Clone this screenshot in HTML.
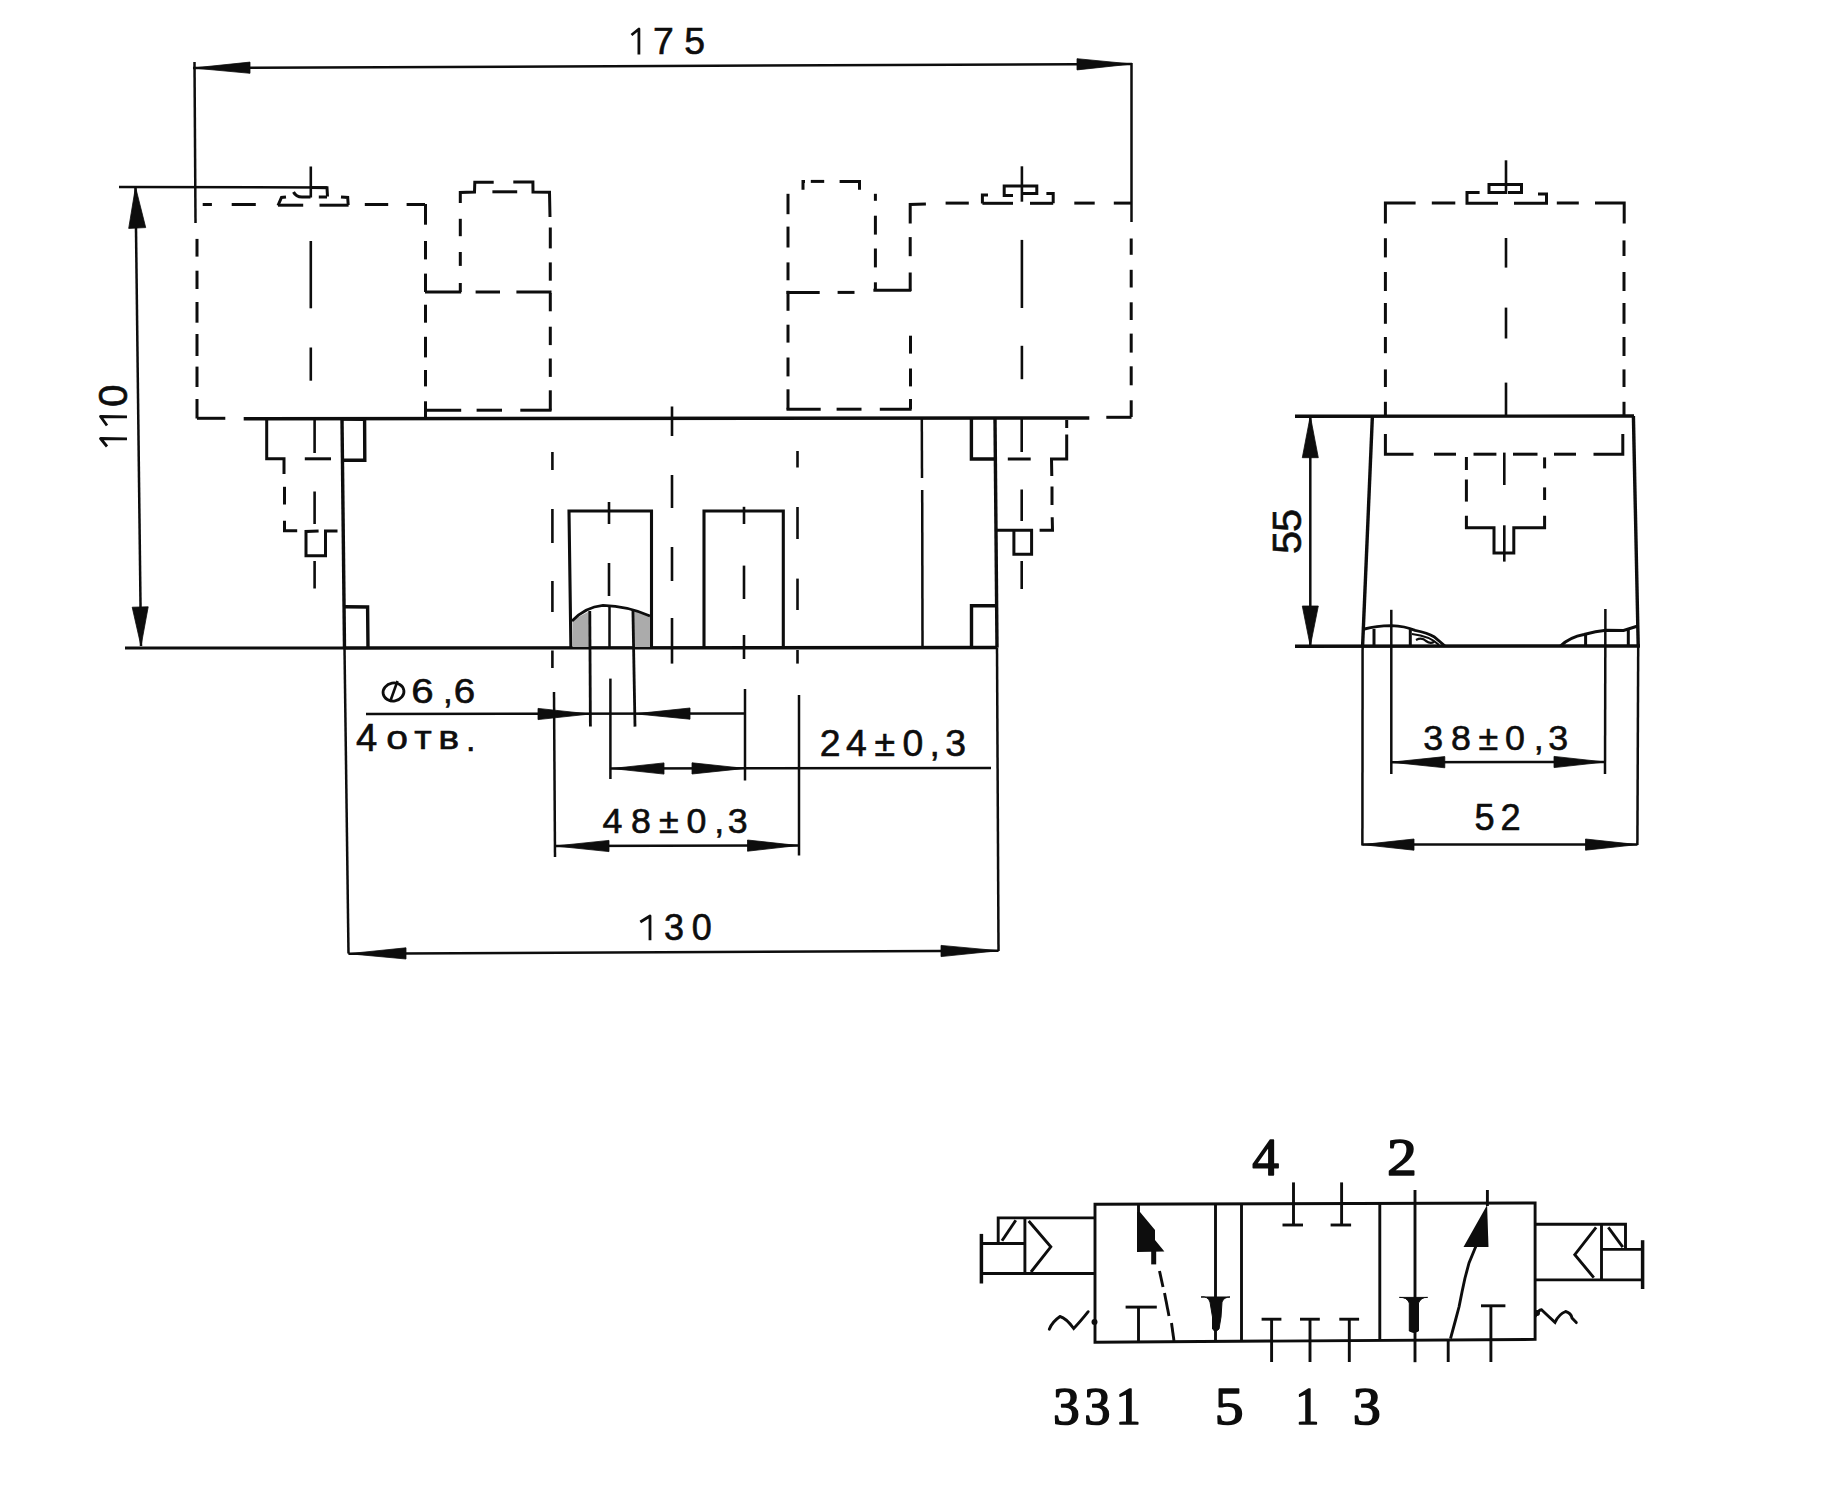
<!DOCTYPE html>
<html><head><meta charset="utf-8"><style>
html,body{margin:0;padding:0;background:#fff;overflow:hidden;}
svg{display:block;}
</style></head><body>
<svg width="1836" height="1508" viewBox="0 0 1836 1508" stroke="#0d0d0d" fill="none">
<rect x="0" y="0" width="1836" height="1508" fill="#fff" stroke="none"/>
<line x1="193" y1="68" x2="1132" y2="64" stroke-width="2.5" stroke-linecap="butt"/>
<polygon points="193.0,68.0 250.0,73.3 250.0,62.1" fill="#0d0d0d" stroke="#0d0d0d" stroke-width="0.8" stroke-linejoin="round"/>
<polygon points="1132.0,64.0 1077.0,58.7 1077.0,69.9" fill="#0d0d0d" stroke="#0d0d0d" stroke-width="0.8" stroke-linejoin="round"/>
<path d="M631.5,35.0 L638.9,29.0 L638.9,54.4" fill="none" stroke-width="2.8" stroke-linejoin="round"/>
<text x="653.1" y="54.4" font-family="Liberation Sans" font-weight="normal" font-size="37.4" fill="#0d0d0d" stroke="#0d0d0d" stroke-width="0.6">7</text>
<text x="684.3" y="54.4" font-family="Liberation Sans" font-weight="normal" font-size="37.4" fill="#0d0d0d" stroke="#0d0d0d" stroke-width="0.6">5</text>
<line x1="194.5" y1="62" x2="195.5" y2="223" stroke-width="2.5" stroke-linecap="butt"/>
<line x1="1131.5" y1="63" x2="1131.5" y2="222" stroke-width="2.5" stroke-linecap="butt"/>
<line x1="119" y1="187" x2="327" y2="187.5" stroke-width="2.5" stroke-linecap="butt"/>
<line x1="135.5" y1="187" x2="141" y2="646" stroke-width="2.5" stroke-linecap="butt"/>
<polygon points="135.5,187.0 128.7,228.4 145.7,227.6" fill="#0d0d0d" stroke="#0d0d0d" stroke-width="0.8" stroke-linejoin="round"/>
<polygon points="141.0,646.0 148.2,606.8 132.2,607.2" fill="#0d0d0d" stroke="#0d0d0d" stroke-width="0.8" stroke-linejoin="round"/>
<line x1="125" y1="648" x2="345" y2="648" stroke-width="2.9" stroke-linecap="butt"/>
<path d="M107,446.5 L100.5,438.5 L127,438.8" fill="none" stroke-width="2.8" stroke-linejoin="round"/>
<path d="M100,425 M107,425.5 L100.5,416.5 L127,416.8" fill="none" stroke-width="2.8" stroke-linejoin="round"/>
<text x="-1.6" y="0" transform="translate(127.3,405.3) rotate(-90)" font-family="Liberation Sans" font-weight="normal" font-size="40.5" fill="#0d0d0d" stroke="#0d0d0d" stroke-width="0.6">0</text>
<line x1="197" y1="238.9" x2="197" y2="256.6" stroke-width="3.0" stroke-linecap="butt"/>
<line x1="197" y1="270.7" x2="197" y2="289" stroke-width="3.0" stroke-linecap="butt"/>
<line x1="197" y1="302" x2="197" y2="322.7" stroke-width="3.0" stroke-linecap="butt"/>
<line x1="197" y1="334" x2="197" y2="356" stroke-width="3.0" stroke-linecap="butt"/>
<line x1="197" y1="366.6" x2="197" y2="387" stroke-width="3.0" stroke-linecap="butt"/>
<line x1="197" y1="399" x2="197" y2="418.5" stroke-width="3.0" stroke-linecap="butt"/>
<line x1="197" y1="418.3" x2="225.3" y2="418.3" stroke-width="3.0" stroke-linecap="butt"/>
<line x1="202.7" y1="204.5" x2="211.9" y2="204.5" stroke-width="3.0" stroke-linecap="butt"/>
<line x1="231.7" y1="204.5" x2="255.8" y2="204.5" stroke-width="3.0" stroke-linecap="butt"/>
<line x1="364.8" y1="204.5" x2="388.2" y2="204.5" stroke-width="3.0" stroke-linecap="butt"/>
<line x1="406.6" y1="204.5" x2="425" y2="204.5" stroke-width="3.0" stroke-linecap="butt"/>
<line x1="425.5" y1="204" x2="425.5" y2="224.7" stroke-width="3.0" stroke-linecap="butt"/>
<line x1="425.5" y1="241" x2="425.5" y2="259.4" stroke-width="3.0" stroke-linecap="butt"/>
<line x1="425.5" y1="273.6" x2="425.5" y2="292" stroke-width="3.0" stroke-linecap="butt"/>
<line x1="425.5" y1="304.7" x2="425.5" y2="322.7" stroke-width="3.0" stroke-linecap="butt"/>
<line x1="425.5" y1="336.8" x2="425.5" y2="357.4" stroke-width="3.0" stroke-linecap="butt"/>
<line x1="425.5" y1="370" x2="425.5" y2="386.4" stroke-width="3.0" stroke-linecap="butt"/>
<line x1="425.5" y1="401.3" x2="425.5" y2="419" stroke-width="3.0" stroke-linecap="butt"/>
<polyline points="278,205.5 281.5,197.5 286,197" stroke-width="3.0" stroke-linecap="butt" stroke-linejoin="miter"/>
<line x1="278" y1="205.2" x2="303.2" y2="205.2" stroke-width="3.0" stroke-linecap="butt"/>
<line x1="319.5" y1="205.2" x2="348.6" y2="205.2" stroke-width="3.0" stroke-linecap="butt"/>
<polyline points="341,197 347.7,197.5 348.2,205" stroke-width="3.0" stroke-linecap="butt" stroke-linejoin="miter"/>
<path d="M293.5,192 Q296,197 302,197 L310.5,197" fill="none" stroke-width="3.0"/>
<polyline points="310,187.5 327,187.8 327.5,196.5" stroke-width="3.0" stroke-linecap="butt" stroke-linejoin="miter"/>
<line x1="318.8" y1="197" x2="327" y2="197" stroke-width="3.0" stroke-linecap="butt"/>
<line x1="310.8" y1="166.5" x2="310.8" y2="197.5" stroke-width="2.6" stroke-linecap="butt"/>
<line x1="310.8" y1="241" x2="310.8" y2="308.3" stroke-width="2.6" stroke-linecap="butt"/>
<line x1="310.8" y1="347.5" x2="310.8" y2="380.7" stroke-width="2.6" stroke-linecap="butt"/>
<line x1="425" y1="292" x2="461.2" y2="292" stroke-width="3.0" stroke-linecap="butt"/>
<line x1="460.3" y1="218.8" x2="460.3" y2="236.2" stroke-width="3.0" stroke-linecap="butt"/>
<line x1="460.3" y1="252" x2="460.3" y2="265.9" stroke-width="3.0" stroke-linecap="butt"/>
<line x1="460.3" y1="283" x2="460.3" y2="292" stroke-width="3.0" stroke-linecap="butt"/>
<polyline points="460.3,203 460.3,192.5 474.5,192 474.8,182.2 493.7,182.2" stroke-width="3.0" stroke-linecap="butt" stroke-linejoin="miter"/>
<line x1="492.4" y1="191.8" x2="517.2" y2="191.8" stroke-width="3.0" stroke-linecap="butt"/>
<polyline points="513.3,182 532.9,182 533,192 549.5,192.3 550,217" stroke-width="3.0" stroke-linecap="butt" stroke-linejoin="miter"/>
<line x1="550.3" y1="227.5" x2="550.3" y2="248.4" stroke-width="3.0" stroke-linecap="butt"/>
<line x1="550.3" y1="262.4" x2="550.3" y2="280.7" stroke-width="3.0" stroke-linecap="butt"/>
<line x1="550.3" y1="293" x2="550.3" y2="311.3" stroke-width="3.0" stroke-linecap="butt"/>
<line x1="550.3" y1="326.7" x2="550.3" y2="345.1" stroke-width="3.0" stroke-linecap="butt"/>
<line x1="550.3" y1="358.5" x2="550.3" y2="376.9" stroke-width="3.0" stroke-linecap="butt"/>
<line x1="550.3" y1="390.3" x2="550.3" y2="410.5" stroke-width="3.0" stroke-linecap="butt"/>
<line x1="475.6" y1="292" x2="500" y2="292" stroke-width="3.0" stroke-linecap="butt"/>
<line x1="516.4" y1="292" x2="551.5" y2="292" stroke-width="3.0" stroke-linecap="butt"/>
<line x1="426" y1="410.2" x2="461.2" y2="410.2" stroke-width="3.0" stroke-linecap="butt"/>
<line x1="476.6" y1="410.2" x2="502" y2="410.2" stroke-width="3.0" stroke-linecap="butt"/>
<line x1="520.3" y1="410.2" x2="551.5" y2="410.2" stroke-width="3.0" stroke-linecap="butt"/>
<polyline points="803,189.8 803,181.4 805,181.4" stroke-width="3.0" stroke-linecap="butt" stroke-linejoin="miter"/>
<line x1="810.8" y1="181.4" x2="824.2" y2="181.4" stroke-width="3.0" stroke-linecap="butt"/>
<polyline points="839.6,181.4 859.5,181.4 859.5,189.8" stroke-width="3.0" stroke-linecap="butt" stroke-linejoin="miter"/>
<line x1="788" y1="193.8" x2="788" y2="214.2" stroke-width="3.0" stroke-linecap="butt"/>
<line x1="788" y1="226.6" x2="788" y2="247.5" stroke-width="3.0" stroke-linecap="butt"/>
<line x1="788" y1="262.4" x2="788" y2="280.3" stroke-width="3.0" stroke-linecap="butt"/>
<line x1="788" y1="290.8" x2="788" y2="310.8" stroke-width="3.0" stroke-linecap="butt"/>
<line x1="788" y1="324.7" x2="788" y2="342.6" stroke-width="3.0" stroke-linecap="butt"/>
<line x1="788" y1="357.5" x2="788" y2="376.4" stroke-width="3.0" stroke-linecap="butt"/>
<line x1="788" y1="389.3" x2="788" y2="409.5" stroke-width="3.0" stroke-linecap="butt"/>
<line x1="875.4" y1="193.8" x2="875.4" y2="200.8" stroke-width="3.0" stroke-linecap="butt"/>
<line x1="875.4" y1="215.7" x2="875.4" y2="234.6" stroke-width="3.0" stroke-linecap="butt"/>
<line x1="875.4" y1="248.5" x2="875.4" y2="267.4" stroke-width="3.0" stroke-linecap="butt"/>
<line x1="875.4" y1="282.3" x2="875.4" y2="290.5" stroke-width="3.0" stroke-linecap="butt"/>
<line x1="873.4" y1="290.2" x2="911.2" y2="290.2" stroke-width="3.0" stroke-linecap="butt"/>
<line x1="786.5" y1="292.4" x2="819.7" y2="292.4" stroke-width="3.0" stroke-linecap="butt"/>
<line x1="837.6" y1="292.4" x2="854.5" y2="292.4" stroke-width="3.0" stroke-linecap="butt"/>
<line x1="786.5" y1="409.2" x2="820.7" y2="409.2" stroke-width="3.0" stroke-linecap="butt"/>
<line x1="836.6" y1="409.2" x2="861.5" y2="409.2" stroke-width="3.0" stroke-linecap="butt"/>
<line x1="879.8" y1="409.2" x2="911.6" y2="409.2" stroke-width="3.0" stroke-linecap="butt"/>
<line x1="910.5" y1="335.7" x2="910.5" y2="353.6" stroke-width="3.0" stroke-linecap="butt"/>
<line x1="910.5" y1="368.5" x2="910.5" y2="386.4" stroke-width="3.0" stroke-linecap="butt"/>
<line x1="910.5" y1="399" x2="910.5" y2="409.2" stroke-width="3.0" stroke-linecap="butt"/>
<polyline points="925.9,204 910.2,204.5 910.2,223.5" stroke-width="3.0" stroke-linecap="butt" stroke-linejoin="miter"/>
<line x1="910.2" y1="237.1" x2="910.2" y2="256.2" stroke-width="3.0" stroke-linecap="butt"/>
<line x1="910.2" y1="272.5" x2="910.2" y2="291" stroke-width="3.0" stroke-linecap="butt"/>
<line x1="945.6" y1="203.1" x2="968.8" y2="203.1" stroke-width="3.0" stroke-linecap="butt"/>
<line x1="1074.3" y1="203.1" x2="1094.7" y2="203.1" stroke-width="3.0" stroke-linecap="butt"/>
<line x1="1113.8" y1="203.1" x2="1131.5" y2="203.1" stroke-width="3.0" stroke-linecap="butt"/>
<polyline points="982.4,203.5 982.4,195 988,195" stroke-width="3.0" stroke-linecap="butt" stroke-linejoin="miter"/>
<line x1="982.4" y1="203.3" x2="1013" y2="203.3" stroke-width="3.0" stroke-linecap="butt"/>
<line x1="1030" y1="203.3" x2="1053.2" y2="203.3" stroke-width="3.0" stroke-linecap="butt"/>
<polyline points="1046.4,193.6 1053.2,193.6 1053.2,203.3" stroke-width="3.0" stroke-linecap="butt" stroke-linejoin="miter"/>
<polyline points="1013,195.6 1004.2,195.6 1004.2,186 1036.8,186 1036.8,193.6 1021.2,193.6" stroke-width="3.0" stroke-linecap="butt" stroke-linejoin="miter"/>
<line x1="1021.9" y1="166.3" x2="1021.9" y2="201.7" stroke-width="2.6" stroke-linecap="butt"/>
<line x1="1021.9" y1="239.9" x2="1021.9" y2="308" stroke-width="2.6" stroke-linecap="butt"/>
<line x1="1021.9" y1="345.8" x2="1021.9" y2="379.2" stroke-width="2.6" stroke-linecap="butt"/>
<line x1="1131.2" y1="238.5" x2="1131.2" y2="254.8" stroke-width="3.0" stroke-linecap="butt"/>
<line x1="1131.2" y1="269.8" x2="1131.2" y2="287.5" stroke-width="3.0" stroke-linecap="butt"/>
<line x1="1131.2" y1="302.3" x2="1131.2" y2="320" stroke-width="3.0" stroke-linecap="butt"/>
<line x1="1131.2" y1="333.6" x2="1131.2" y2="352.6" stroke-width="3.0" stroke-linecap="butt"/>
<line x1="1131.2" y1="366.3" x2="1131.2" y2="385.3" stroke-width="3.0" stroke-linecap="butt"/>
<line x1="1131.2" y1="400.3" x2="1131.2" y2="417" stroke-width="3.0" stroke-linecap="butt"/>
<line x1="1106.3" y1="417.3" x2="1131.5" y2="417.3" stroke-width="3.0" stroke-linecap="butt"/>
<line x1="243.7" y1="418.7" x2="1089.3" y2="418" stroke-width="3.4" stroke-linecap="butt"/>
<line x1="342" y1="418.7" x2="344.5" y2="648" stroke-width="3.4" stroke-linecap="butt"/>
<line x1="344.5" y1="648" x2="348.5" y2="953.5" stroke-width="2.5" stroke-linecap="butt"/>
<line x1="995" y1="418" x2="997" y2="647.5" stroke-width="3.4" stroke-linecap="butt"/>
<line x1="997" y1="647.5" x2="998.5" y2="951" stroke-width="2.5" stroke-linecap="butt"/>
<line x1="345" y1="648" x2="997" y2="647.5" stroke-width="3.4" stroke-linecap="butt"/>
<polyline points="342,419 364.6,419.2 364.8,460.3 343,460.3" stroke-width="3.4" stroke-linecap="butt" stroke-linejoin="miter"/>
<polyline points="345,606.8 367.6,607 368,648" stroke-width="3.4" stroke-linecap="butt" stroke-linejoin="miter"/>
<polyline points="995,459 971.4,459 971.4,418" stroke-width="3.4" stroke-linecap="butt" stroke-linejoin="miter"/>
<polyline points="997,605.8 971.5,605.8 971.5,647" stroke-width="3.4" stroke-linecap="butt" stroke-linejoin="miter"/>
<line x1="921.8" y1="418" x2="922" y2="478" stroke-width="2.5" stroke-linecap="butt"/>
<line x1="922.2" y1="490" x2="922.5" y2="647" stroke-width="2.5" stroke-linecap="butt"/>
<polyline points="266.7,419 266.7,458.8 284,458.8 284,474" stroke-width="3.0" stroke-linecap="butt" stroke-linejoin="miter"/>
<line x1="284.5" y1="486.8" x2="284.5" y2="504.5" stroke-width="3.0" stroke-linecap="butt"/>
<polyline points="284.5,520.8 284.5,530.7 297.2,530.7" stroke-width="3.0" stroke-linecap="butt" stroke-linejoin="miter"/>
<line x1="304.8" y1="458.8" x2="331" y2="458.8" stroke-width="3.0" stroke-linecap="butt"/>
<polyline points="318.6,531 306,531.5 306,555.8 325.5,555.8 325.5,531 337.5,531" stroke-width="3.0" stroke-linecap="butt" stroke-linejoin="miter"/>
<line x1="314.6" y1="420" x2="314.6" y2="453" stroke-width="2.6" stroke-linecap="butt"/>
<line x1="314.6" y1="491.5" x2="314.6" y2="524" stroke-width="2.6" stroke-linecap="butt"/>
<line x1="314.6" y1="561" x2="314.6" y2="588.5" stroke-width="2.6" stroke-linecap="butt"/>
<polyline points="1066.7,434.5 1066.7,459 1051.5,459 1051.8,476" stroke-width="3.0" stroke-linecap="butt" stroke-linejoin="miter"/>
<line x1="1052" y1="486.5" x2="1052" y2="505" stroke-width="3.0" stroke-linecap="butt"/>
<polyline points="1052.2,517.3 1052.5,530.2 1039.6,530.2" stroke-width="3.0" stroke-linecap="butt" stroke-linejoin="miter"/>
<line x1="1007.8" y1="459" x2="1030.7" y2="459" stroke-width="3.0" stroke-linecap="butt"/>
<polyline points="997,530.3 1031.6,530.3 1031.6,554.2 1013.9,554.2 1013.9,530.3" stroke-width="3.0" stroke-linecap="butt" stroke-linejoin="miter"/>
<line x1="1066.7" y1="420" x2="1066.7" y2="428" stroke-width="3.0" stroke-linecap="butt"/>
<line x1="1021.7" y1="418" x2="1021.7" y2="452" stroke-width="2.6" stroke-linecap="butt"/>
<line x1="1021.7" y1="489.5" x2="1021.7" y2="521" stroke-width="2.6" stroke-linecap="butt"/>
<line x1="1021.7" y1="561" x2="1021.7" y2="589" stroke-width="2.6" stroke-linecap="butt"/>
<line x1="552.4" y1="452" x2="552.4" y2="470" stroke-width="2.6" stroke-linecap="butt"/>
<line x1="552.4" y1="509" x2="552.4" y2="543" stroke-width="2.6" stroke-linecap="butt"/>
<line x1="552.4" y1="581" x2="552.4" y2="612" stroke-width="2.6" stroke-linecap="butt"/>
<line x1="552.4" y1="650.5" x2="552.4" y2="668" stroke-width="2.6" stroke-linecap="butt"/>
<line x1="554" y1="692" x2="555" y2="857" stroke-width="2.5" stroke-linecap="butt"/>
<line x1="672" y1="406.5" x2="672" y2="436" stroke-width="2.6" stroke-linecap="butt"/>
<line x1="672" y1="475" x2="672" y2="508" stroke-width="2.6" stroke-linecap="butt"/>
<line x1="672" y1="547" x2="672" y2="581" stroke-width="2.6" stroke-linecap="butt"/>
<line x1="672" y1="618" x2="672" y2="663.6" stroke-width="2.6" stroke-linecap="butt"/>
<line x1="797.5" y1="451" x2="797.5" y2="467.5" stroke-width="2.6" stroke-linecap="butt"/>
<line x1="797.5" y1="507" x2="797.5" y2="539" stroke-width="2.6" stroke-linecap="butt"/>
<line x1="797.5" y1="578.6" x2="797.5" y2="610" stroke-width="2.6" stroke-linecap="butt"/>
<line x1="797.5" y1="650" x2="797.5" y2="663.6" stroke-width="2.6" stroke-linecap="butt"/>
<line x1="799" y1="695" x2="799" y2="855.5" stroke-width="2.5" stroke-linecap="butt"/>
<polyline points="570.9,648 569,511 651.5,511 651.5,648" stroke-width="3.1" stroke-linecap="butt" stroke-linejoin="miter"/>
<polyline points="704,648 704,511 783.3,511 783.3,648" stroke-width="3.1" stroke-linecap="butt" stroke-linejoin="miter"/>
<line x1="609" y1="502" x2="609" y2="524" stroke-width="2.6" stroke-linecap="butt"/>
<line x1="609" y1="563" x2="609" y2="596" stroke-width="2.6" stroke-linecap="butt"/>
<line x1="609.5" y1="605" x2="609.5" y2="648" stroke-width="2.5" stroke-linecap="butt"/>
<line x1="610.4" y1="678.6" x2="610.4" y2="779" stroke-width="2.5" stroke-linecap="butt"/>
<line x1="744" y1="506.8" x2="744" y2="524" stroke-width="2.6" stroke-linecap="butt"/>
<line x1="744" y1="565.6" x2="744" y2="599" stroke-width="2.6" stroke-linecap="butt"/>
<line x1="744" y1="635" x2="744" y2="659" stroke-width="2.6" stroke-linecap="butt"/>
<line x1="745" y1="689" x2="745" y2="780.5" stroke-width="2.5" stroke-linecap="butt"/>
<path d="M572.5,647 L572.5,620 L589,611.5 L589,647 Z" fill="#ababab" stroke="none"/>
<path d="M633,647 L633,610 L650,616 L650,647 Z" fill="#ababab" stroke="none"/>
<path d="M572,621 Q585,607 603,605.3 Q628,606 650,616" fill="none" stroke-width="2.7"/>
<line x1="589.8" y1="611" x2="590.4" y2="726.6" stroke-width="2.8" stroke-linecap="butt"/>
<line x1="632.9" y1="609" x2="635" y2="726.6" stroke-width="2.8" stroke-linecap="butt"/>
<line x1="366" y1="714" x2="745" y2="713.5" stroke-width="2.5" stroke-linecap="butt"/>
<polygon points="590.0,714.0 538.0,708.4 538.0,719.6" fill="#0d0d0d" stroke="#0d0d0d" stroke-width="0.8" stroke-linejoin="round"/>
<polygon points="635.0,713.8 690.0,719.2 690.0,708.0" fill="#0d0d0d" stroke="#0d0d0d" stroke-width="0.8" stroke-linejoin="round"/>
<ellipse cx="393.5" cy="692" rx="10.5" ry="9" stroke-width="2.8" transform="rotate(-10 393.5 692)"/>
<line x1="390" y1="702" x2="397.5" y2="681" stroke-width="2.6" stroke-linecap="butt"/>
<text x="-1.78" y="0" transform="translate(413.3,703.3) scale(1.15,1)" font-family="Liberation Sans" font-weight="normal" font-size="35" fill="#0d0d0d" stroke="#0d0d0d" stroke-width="0.6">6</text>
<text x="442.9" y="703.3" font-family="Liberation Sans" font-weight="normal" font-size="35" fill="#0d0d0d" stroke="#0d0d0d" stroke-width="0.6">,</text>
<text x="-1.78" y="0" transform="translate(455.6,703.3) scale(1.1,1)" font-family="Liberation Sans" font-weight="normal" font-size="35" fill="#0d0d0d" stroke="#0d0d0d" stroke-width="0.6">6</text>
<text x="356.0" y="750.5" font-family="Liberation Sans" font-weight="normal" font-size="38.2" fill="#0d0d0d" stroke="#0d0d0d" stroke-width="0.6">4</text>
<text x="-1.43" y="0" transform="translate(388.0,749.3) scale(1.15,1)" font-family="Liberation Sans" font-weight="normal" font-size="34" fill="#0d0d0d" stroke="#0d0d0d" stroke-width="0.6">о</text>
<text x="-0.58" y="0" transform="translate(414.8,749.3) scale(1.12,1)" font-family="Liberation Sans" font-weight="normal" font-size="34" fill="#0d0d0d" stroke="#0d0d0d" stroke-width="0.6">т</text>
<text x="-2.36" y="0" transform="translate(441.0,749.3) scale(1.16,1)" font-family="Liberation Sans" font-weight="normal" font-size="34" fill="#0d0d0d" stroke="#0d0d0d" stroke-width="0.6">в</text>
<text x="465.9" y="751.0" font-family="Liberation Sans" font-weight="normal" font-size="34" fill="#0d0d0d" stroke="#0d0d0d" stroke-width="0.6">.</text>
<line x1="610" y1="768.5" x2="991" y2="768" stroke-width="2.5" stroke-linecap="butt"/>
<polygon points="612.0,768.5 664.0,774.1 664.0,762.9" fill="#0d0d0d" stroke="#0d0d0d" stroke-width="0.8" stroke-linejoin="round"/>
<polygon points="745.0,768.4 692.0,762.8 692.0,774.0" fill="#0d0d0d" stroke="#0d0d0d" stroke-width="0.8" stroke-linejoin="round"/>
<text x="819.7" y="755.5" font-family="Liberation Sans" font-weight="normal" font-size="37.4" fill="#0d0d0d" stroke="#0d0d0d" stroke-width="0.6">2</text>
<text x="846.1" y="755.5" font-family="Liberation Sans" font-weight="normal" font-size="37.4" fill="#0d0d0d" stroke="#0d0d0d" stroke-width="0.6">4</text>
<text x="874.5" y="755.5" font-family="Liberation Sans" font-weight="normal" font-size="37.4" fill="#0d0d0d" stroke="#0d0d0d" stroke-width="0.6">±</text>
<text x="902.5" y="755.5" font-family="Liberation Sans" font-weight="normal" font-size="37.4" fill="#0d0d0d" stroke="#0d0d0d" stroke-width="0.6">0</text>
<text x="929.6" y="755.5" font-family="Liberation Sans" font-weight="normal" font-size="37.4" fill="#0d0d0d" stroke="#0d0d0d" stroke-width="0.6">,</text>
<text x="945.2" y="755.5" font-family="Liberation Sans" font-weight="normal" font-size="37.4" fill="#0d0d0d" stroke="#0d0d0d" stroke-width="0.6">3</text>
<line x1="555" y1="846" x2="798" y2="845.5" stroke-width="2.5" stroke-linecap="butt"/>
<polygon points="555.0,846.0 609.0,851.6 609.0,840.4" fill="#0d0d0d" stroke="#0d0d0d" stroke-width="0.8" stroke-linejoin="round"/>
<polygon points="798.0,845.5 747.5,840.0 747.5,851.2" fill="#0d0d0d" stroke="#0d0d0d" stroke-width="0.8" stroke-linejoin="round"/>
<text x="602.5" y="833.0" font-family="Liberation Sans" font-weight="normal" font-size="35.8" fill="#0d0d0d" stroke="#0d0d0d" stroke-width="0.6">4</text>
<text x="630.9" y="833.0" font-family="Liberation Sans" font-weight="normal" font-size="35.8" fill="#0d0d0d" stroke="#0d0d0d" stroke-width="0.6">8</text>
<text x="658.9" y="833.0" font-family="Liberation Sans" font-weight="normal" font-size="35.8" fill="#0d0d0d" stroke="#0d0d0d" stroke-width="0.6">±</text>
<text x="686.4" y="833.0" font-family="Liberation Sans" font-weight="normal" font-size="35.8" fill="#0d0d0d" stroke="#0d0d0d" stroke-width="0.6">0</text>
<text x="714.2" y="833.0" font-family="Liberation Sans" font-weight="normal" font-size="35.8" fill="#0d0d0d" stroke="#0d0d0d" stroke-width="0.6">,</text>
<text x="727.8" y="833.0" font-family="Liberation Sans" font-weight="normal" font-size="35.8" fill="#0d0d0d" stroke="#0d0d0d" stroke-width="0.6">3</text>
<line x1="348.5" y1="953.7" x2="998.5" y2="950.7" stroke-width="2.5" stroke-linecap="butt"/>
<polygon points="348.5,953.7 406.0,959.0 406.0,947.8" fill="#0d0d0d" stroke="#0d0d0d" stroke-width="0.8" stroke-linejoin="round"/>
<polygon points="998.5,950.7 941.0,945.4 941.0,956.6" fill="#0d0d0d" stroke="#0d0d0d" stroke-width="0.8" stroke-linejoin="round"/>
<path d="M640.3,922.0 L650.0,916.0 L650.0,940.3" fill="none" stroke-width="2.8" stroke-linejoin="round"/>
<text x="663.9" y="940.3" font-family="Liberation Sans" font-weight="normal" font-size="36" fill="#0d0d0d" stroke="#0d0d0d" stroke-width="0.6">3</text>
<text x="691.8" y="940.3" font-family="Liberation Sans" font-weight="normal" font-size="36" fill="#0d0d0d" stroke="#0d0d0d" stroke-width="0.6">0</text>
<line x1="1295" y1="416.3" x2="1634" y2="416" stroke-width="3.4" stroke-linecap="butt"/>
<line x1="1295" y1="646.2" x2="1640" y2="646" stroke-width="3.4" stroke-linecap="butt"/>
<line x1="1372.4" y1="416" x2="1362.6" y2="646" stroke-width="3.4" stroke-linecap="butt"/>
<line x1="1362.6" y1="646" x2="1362.4" y2="845.6" stroke-width="2.5" stroke-linecap="butt"/>
<line x1="1633.4" y1="416" x2="1638.2" y2="646" stroke-width="3.4" stroke-linecap="butt"/>
<line x1="1638.2" y1="646" x2="1637.4" y2="845" stroke-width="2.5" stroke-linecap="butt"/>
<polyline points="1385.4,223.5 1385.4,203 1415.6,203" stroke-width="3.0" stroke-linecap="butt" stroke-linejoin="miter"/>
<line x1="1385.4" y1="238.2" x2="1385.4" y2="257.4" stroke-width="3.0" stroke-linecap="butt"/>
<line x1="1385.4" y1="272" x2="1385.4" y2="291" stroke-width="3.0" stroke-linecap="butt"/>
<line x1="1385.4" y1="303" x2="1385.4" y2="323.8" stroke-width="3.0" stroke-linecap="butt"/>
<line x1="1385.4" y1="337" x2="1385.4" y2="353.2" stroke-width="3.0" stroke-linecap="butt"/>
<line x1="1385.4" y1="369.4" x2="1385.4" y2="387" stroke-width="3.0" stroke-linecap="butt"/>
<line x1="1385.4" y1="401.8" x2="1385.4" y2="416" stroke-width="3.0" stroke-linecap="butt"/>
<line x1="1431.8" y1="203" x2="1455.3" y2="203" stroke-width="3.0" stroke-linecap="butt"/>
<line x1="1556.8" y1="203" x2="1578.8" y2="203" stroke-width="3.0" stroke-linecap="butt"/>
<polyline points="1595,203 1624.2,203 1624.2,223.5" stroke-width="3.0" stroke-linecap="butt" stroke-linejoin="miter"/>
<line x1="1624" y1="240.4" x2="1624" y2="256" stroke-width="3.0" stroke-linecap="butt"/>
<line x1="1624" y1="272" x2="1624" y2="291" stroke-width="3.0" stroke-linecap="butt"/>
<line x1="1624" y1="303" x2="1624" y2="323.8" stroke-width="3.0" stroke-linecap="butt"/>
<line x1="1624" y1="337" x2="1624" y2="356" stroke-width="3.0" stroke-linecap="butt"/>
<line x1="1624" y1="369.4" x2="1624" y2="387" stroke-width="3.0" stroke-linecap="butt"/>
<line x1="1624" y1="401.8" x2="1624" y2="416" stroke-width="3.0" stroke-linecap="butt"/>
<polyline points="1479.6,192.6 1467,192.6 1467,203.2 1498,203.2" stroke-width="3.0" stroke-linecap="butt" stroke-linejoin="miter"/>
<polyline points="1514,203.2 1546.5,203.2 1546.5,194 1538,194" stroke-width="3.0" stroke-linecap="butt" stroke-linejoin="miter"/>
<polyline points="1505,192.6 1489,192.6 1489,184.6 1521.5,184.6 1521.5,192.6 1508,192.6" stroke-width="3.0" stroke-linecap="butt" stroke-linejoin="miter"/>
<line x1="1506" y1="160.3" x2="1506" y2="194" stroke-width="2.6" stroke-linecap="butt"/>
<line x1="1506" y1="238" x2="1506" y2="267.6" stroke-width="2.6" stroke-linecap="butt"/>
<line x1="1506" y1="307.6" x2="1506" y2="338.5" stroke-width="2.6" stroke-linecap="butt"/>
<line x1="1506" y1="382.6" x2="1506" y2="415" stroke-width="2.6" stroke-linecap="butt"/>
<polyline points="1385.4,434 1385.4,454.2 1413.5,454.2" stroke-width="3.0" stroke-linecap="butt" stroke-linejoin="miter"/>
<line x1="1434" y1="454.2" x2="1456" y2="454.2" stroke-width="3.0" stroke-linecap="butt"/>
<line x1="1473.5" y1="454.2" x2="1496.4" y2="454.2" stroke-width="3.0" stroke-linecap="butt"/>
<line x1="1513" y1="454.2" x2="1537.5" y2="454.2" stroke-width="3.0" stroke-linecap="butt"/>
<line x1="1554" y1="454.2" x2="1576" y2="454.2" stroke-width="3.0" stroke-linecap="butt"/>
<polyline points="1593.5,454.2 1622.8,454.2 1622.8,434" stroke-width="3.0" stroke-linecap="butt" stroke-linejoin="miter"/>
<line x1="1466.4" y1="457" x2="1466.4" y2="470" stroke-width="3.0" stroke-linecap="butt"/>
<line x1="1466.4" y1="479.5" x2="1466.4" y2="501.6" stroke-width="3.0" stroke-linecap="butt"/>
<line x1="1544.6" y1="457.4" x2="1544.6" y2="468.4" stroke-width="3.0" stroke-linecap="butt"/>
<line x1="1544.6" y1="487.4" x2="1544.6" y2="500" stroke-width="3.0" stroke-linecap="butt"/>
<polyline points="1466.4,515.8 1466.4,527.7 1494,527.7 1494,553 1513.8,553 1513.8,527.7 1544.6,527.7 1544.6,515.8" stroke-width="3.0" stroke-linecap="butt" stroke-linejoin="miter"/>
<line x1="1504.3" y1="452.6" x2="1504.3" y2="485" stroke-width="2.6" stroke-linecap="butt"/>
<line x1="1504.3" y1="525.3" x2="1504.3" y2="561.6" stroke-width="2.6" stroke-linecap="butt"/>
<path d="M1364.5,629 Q1376,626 1391.3,625.6 Q1405,626 1415,630.4 Q1428,633 1434,636.7 L1445,646" fill="none" stroke-width="2.9"/>
<line x1="1374" y1="629" x2="1374" y2="646" stroke-width="3.0" stroke-linecap="butt"/>
<line x1="1410.3" y1="628.5" x2="1410.3" y2="646" stroke-width="3.0" stroke-linecap="butt"/>
<path d="M1412,634 Q1430,636 1439,645 M1416,640 Q1422,637 1426,641 Q1430,644 1434,642" fill="none" stroke-width="2.2"/>
<path d="M1560.4,646 Q1570,637 1584,634.5 Q1596,631 1606,630.2 L1623.6,630.5 L1637.8,626" fill="none" stroke-width="2.9"/>
<line x1="1585.6" y1="634" x2="1585.6" y2="646" stroke-width="3.0" stroke-linecap="butt"/>
<line x1="1628.3" y1="630" x2="1628.3" y2="646" stroke-width="3.0" stroke-linecap="butt"/>
<line x1="1391.3" y1="609.8" x2="1391.3" y2="774" stroke-width="2.5" stroke-linecap="butt"/>
<line x1="1605.4" y1="609" x2="1605" y2="774" stroke-width="2.5" stroke-linecap="butt"/>
<line x1="1391" y1="762.2" x2="1605" y2="762" stroke-width="2.5" stroke-linecap="butt"/>
<polygon points="1391.0,762.2 1444.8,767.8 1444.8,756.6" fill="#0d0d0d" stroke="#0d0d0d" stroke-width="0.8" stroke-linejoin="round"/>
<polygon points="1605.0,762.0 1554.0,756.4 1554.0,767.6" fill="#0d0d0d" stroke="#0d0d0d" stroke-width="0.8" stroke-linejoin="round"/>
<text x="1423.2" y="749.7" font-family="Liberation Sans" font-weight="normal" font-size="35.8" fill="#0d0d0d" stroke="#0d0d0d" stroke-width="0.6">3</text>
<text x="1450.9" y="749.7" font-family="Liberation Sans" font-weight="normal" font-size="35.8" fill="#0d0d0d" stroke="#0d0d0d" stroke-width="0.6">8</text>
<text x="1478.4" y="749.7" font-family="Liberation Sans" font-weight="normal" font-size="35.8" fill="#0d0d0d" stroke="#0d0d0d" stroke-width="0.6">±</text>
<text x="1505.1" y="749.7" font-family="Liberation Sans" font-weight="normal" font-size="35.8" fill="#0d0d0d" stroke="#0d0d0d" stroke-width="0.6">0</text>
<text x="1533.8" y="749.7" font-family="Liberation Sans" font-weight="normal" font-size="35.8" fill="#0d0d0d" stroke="#0d0d0d" stroke-width="0.6">,</text>
<text x="1548.2" y="749.7" font-family="Liberation Sans" font-weight="normal" font-size="35.8" fill="#0d0d0d" stroke="#0d0d0d" stroke-width="0.6">3</text>
<line x1="1362.4" y1="844.6" x2="1637.4" y2="844.6" stroke-width="2.5" stroke-linecap="butt"/>
<polygon points="1362.4,844.6 1414.0,850.2 1414.0,839.0" fill="#0d0d0d" stroke="#0d0d0d" stroke-width="0.8" stroke-linejoin="round"/>
<polygon points="1637.4,844.6 1585.5,839.0 1585.5,850.2" fill="#0d0d0d" stroke="#0d0d0d" stroke-width="0.8" stroke-linejoin="round"/>
<text x="1474.6" y="829.6" font-family="Liberation Sans" font-weight="normal" font-size="36.2" fill="#0d0d0d" stroke="#0d0d0d" stroke-width="0.6">5</text>
<text x="1500.6" y="829.6" font-family="Liberation Sans" font-weight="normal" font-size="36.2" fill="#0d0d0d" stroke="#0d0d0d" stroke-width="0.6">2</text>
<line x1="1310.3" y1="416" x2="1310.3" y2="646" stroke-width="2.5" stroke-linecap="butt"/>
<polygon points="1310.3,416.0 1302.3,457.7 1318.3,457.7" fill="#0d0d0d" stroke="#0d0d0d" stroke-width="0.8" stroke-linejoin="round"/>
<polygon points="1310.3,646.0 1318.3,606.0 1302.3,606.0" fill="#0d0d0d" stroke="#0d0d0d" stroke-width="0.8" stroke-linejoin="round"/>
<line x1="1295" y1="416.3" x2="1372" y2="416.2" stroke-width="2.5" stroke-linecap="butt"/>
<text x="-1.7" y="0" transform="translate(1301.2,552.4) rotate(-90)" font-family="Liberation Sans" font-weight="normal" font-size="41.5" fill="#0d0d0d" stroke="#0d0d0d" stroke-width="0.6">5</text>
<text x="20.5" y="0" transform="translate(1301.2,552.4) rotate(-90)" font-family="Liberation Sans" font-weight="normal" font-size="41.5" fill="#0d0d0d" stroke="#0d0d0d" stroke-width="0.6">5</text>
<polygon points="1095,1204.2 1535.1,1202.9 1535.1,1339.4 1095,1342.2" stroke-width="2.9" stroke-linecap="butt" stroke-linejoin="miter"/>
<line x1="1241.5" y1="1203.5" x2="1241.5" y2="1341" stroke-width="2.9" stroke-linecap="butt"/>
<line x1="1379.8" y1="1203" x2="1379.8" y2="1339.5" stroke-width="2.9" stroke-linecap="butt"/>
<line x1="1138.5" y1="1204" x2="1138.5" y2="1216" stroke-width="2.9" stroke-linecap="butt"/>
<polygon points="1137.0,1212.0 1140.0,1212.0 1155.0,1230.0 1155.0,1240.0 1164.4,1251.4 1137.0,1252.0" fill="#0d0d0d" stroke="none"/>
<polygon points="1151.2,1250.0 1156.2,1250.0 1156.2,1264.4 1151.2,1264.4" fill="#0d0d0d" stroke="none"/>
<line x1="1159.5" y1="1271" x2="1163" y2="1287" stroke-width="2.9" stroke-linecap="butt"/>
<line x1="1164.5" y1="1293" x2="1169" y2="1316" stroke-width="2.9" stroke-linecap="butt"/>
<line x1="1171.5" y1="1323" x2="1174" y2="1341" stroke-width="2.9" stroke-linecap="butt"/>
<line x1="1125.6" y1="1307.1" x2="1156.8" y2="1307.1" stroke-width="2.9" stroke-linecap="butt"/>
<line x1="1138.5" y1="1307" x2="1138.5" y2="1342" stroke-width="2.9" stroke-linecap="butt"/>
<line x1="1215.5" y1="1204" x2="1215.5" y2="1342" stroke-width="2.9" stroke-linecap="butt"/>
<path d="M1201,1297 Q1208,1296 1210,1302 L1212.5,1317 L1212.5,1329 Q1215.5,1333 1219,1329 L1221,1317 L1222,1302 Q1224,1297 1230,1297 Z" fill="#0d0d0d" stroke-width="1.0"/>
<line x1="1293.5" y1="1182.4" x2="1293.5" y2="1225" stroke-width="2.9" stroke-linecap="butt"/>
<line x1="1282.5" y1="1225" x2="1303" y2="1225" stroke-width="2.9" stroke-linecap="butt"/>
<line x1="1341.6" y1="1182.4" x2="1341.6" y2="1225" stroke-width="2.9" stroke-linecap="butt"/>
<line x1="1330.6" y1="1225" x2="1351.1" y2="1225" stroke-width="2.9" stroke-linecap="butt"/>
<line x1="1271.6" y1="1319.2" x2="1271.6" y2="1362" stroke-width="2.9" stroke-linecap="butt"/>
<line x1="1261.6" y1="1319.2" x2="1281.4" y2="1319.2" stroke-width="2.9" stroke-linecap="butt"/>
<line x1="1310" y1="1319.2" x2="1310" y2="1362" stroke-width="2.9" stroke-linecap="butt"/>
<line x1="1300" y1="1319.2" x2="1319.8" y2="1319.2" stroke-width="2.9" stroke-linecap="butt"/>
<line x1="1349.3" y1="1319.2" x2="1349.3" y2="1362" stroke-width="2.9" stroke-linecap="butt"/>
<line x1="1339.3" y1="1319.2" x2="1359.1" y2="1319.2" stroke-width="2.9" stroke-linecap="butt"/>
<line x1="1415" y1="1190" x2="1415" y2="1362.2" stroke-width="2.9" stroke-linecap="butt"/>
<path d="M1399.4,1297.4 Q1407,1297 1409.3,1303 L1409.3,1331 Q1414,1334 1418.5,1331 L1418.5,1303 Q1421,1297 1427.6,1297.4 Z" fill="#0d0d0d" stroke-width="1.0"/>
<path d="M1450.5,1338.6 L1455,1322 L1459,1307 L1462,1292 L1465,1278 L1469,1263 L1476,1246" fill="none" stroke-width="2.9" stroke-linejoin="round"/>
<line x1="1487.4" y1="1190" x2="1487.4" y2="1206" stroke-width="2.9" stroke-linecap="butt"/>
<polygon points="1487.1,1205.0 1488.5,1247.0 1463.5,1247.0" fill="#0d0d0d" stroke="none"/>
<line x1="1448.2" y1="1339" x2="1448.2" y2="1362" stroke-width="2.9" stroke-linecap="butt"/>
<line x1="1490.9" y1="1305.8" x2="1490.9" y2="1362" stroke-width="2.9" stroke-linecap="butt"/>
<line x1="1481" y1="1305.8" x2="1505.4" y2="1305.8" stroke-width="2.9" stroke-linecap="butt"/>
<line x1="981.4" y1="1233.9" x2="981.4" y2="1283.5" stroke-width="3.5" stroke-linecap="butt"/>
<line x1="981" y1="1243.5" x2="1024.9" y2="1243.5" stroke-width="2.9" stroke-linecap="butt"/>
<line x1="981" y1="1273.5" x2="1095" y2="1273.5" stroke-width="2.9" stroke-linecap="butt"/>
<polyline points="998.2,1243.5 998.2,1217.9 1095,1217.9" stroke-width="2.9" stroke-linecap="butt" stroke-linejoin="miter"/>
<line x1="1024.9" y1="1217.9" x2="1024.9" y2="1273.5" stroke-width="2.9" stroke-linecap="butt"/>
<line x1="1002" y1="1240.8" x2="1015.8" y2="1220.2" stroke-width="2.9" stroke-linecap="butt"/>
<polyline points="1028.7,1221 1050.8,1246.9 1031,1272" stroke-width="2.9" stroke-linecap="butt" stroke-linejoin="miter"/>
<path d="M1049.3,1329.2 Q1052,1322 1060,1316.5 Q1066,1318 1073.7,1328.5 Q1080,1322 1088.2,1311.7" fill="none" stroke-width="2.9" stroke-linecap="round"/>
<circle cx="1094.5" cy="1322" r="3" fill="#0d0d0d" stroke="none"/>
<polyline points="1535,1224.2 1625.5,1224.2 1625.5,1249.4" stroke-width="2.9" stroke-linecap="butt" stroke-linejoin="miter"/>
<line x1="1535" y1="1279.9" x2="1641.9" y2="1279.9" stroke-width="2.9" stroke-linecap="butt"/>
<line x1="1601.5" y1="1224" x2="1601.5" y2="1280" stroke-width="2.9" stroke-linecap="butt"/>
<line x1="1601.5" y1="1249.4" x2="1641.9" y2="1249.4" stroke-width="2.9" stroke-linecap="butt"/>
<line x1="1608.3" y1="1227.3" x2="1622.8" y2="1247.1" stroke-width="2.9" stroke-linecap="butt"/>
<line x1="1642.6" y1="1240.2" x2="1642.6" y2="1289" stroke-width="3.5" stroke-linecap="butt"/>
<polyline points="1596.1,1227.3 1574.8,1254.7 1593.8,1277.6" stroke-width="2.9" stroke-linecap="butt" stroke-linejoin="miter"/>
<path d="M1535.5,1316 Q1538,1310 1541.5,1309.8 Q1548,1316 1555,1322.3 Q1559,1314 1565.6,1311.5 Q1571,1313 1572,1318 L1576.3,1322.6" fill="none" stroke-width="2.9" stroke-linecap="round"/>
<circle cx="1537" cy="1313" r="3" fill="#0d0d0d" stroke="none"/>
<text x="-1.07" y="0" transform="translate(1253.2,1174.7) scale(1.0,1)" font-family="Liberation Serif" font-weight="normal" font-size="53.4" fill="#0d0d0d" stroke="#0d0d0d" stroke-width="1.6" stroke-linejoin="round">4</text>
<text x="-2.42" y="0" transform="translate(1389.8,1174.7) scale(1.12,1)" font-family="Liberation Serif" font-weight="normal" font-size="53.4" fill="#0d0d0d" stroke="#0d0d0d" stroke-width="1.6" stroke-linejoin="round">2</text>
<text x="-2.63" y="0" transform="translate(1055.5,1424.2) scale(1.0,1)" font-family="Liberation Serif" font-weight="normal" font-size="53.4" fill="#0d0d0d" stroke="#0d0d0d" stroke-width="1.6" stroke-linejoin="round">3</text>
<text x="-2.63" y="0" transform="translate(1086.8,1424.2) scale(0.98,1)" font-family="Liberation Serif" font-weight="normal" font-size="53.4" fill="#0d0d0d" stroke="#0d0d0d" stroke-width="1.6" stroke-linejoin="round">3</text>
<text x="-4.83" y="0" transform="translate(1120.2,1424.2) scale(0.95,1)" font-family="Liberation Serif" font-weight="normal" font-size="53.4" fill="#0d0d0d" stroke="#0d0d0d" stroke-width="1.6" stroke-linejoin="round">1</text>
<text x="-3.20" y="0" transform="translate(1218.3,1424.2) scale(1.08,1)" font-family="Liberation Serif" font-weight="normal" font-size="53.4" fill="#0d0d0d" stroke="#0d0d0d" stroke-width="1.6" stroke-linejoin="round">5</text>
<text x="-4.83" y="0" transform="translate(1299.6,1424.2) scale(0.9,1)" font-family="Liberation Serif" font-weight="normal" font-size="53.4" fill="#0d0d0d" stroke="#0d0d0d" stroke-width="1.6" stroke-linejoin="round">1</text>
<text x="-2.63" y="0" transform="translate(1355.5,1424.2) scale(1.05,1)" font-family="Liberation Serif" font-weight="normal" font-size="53.4" fill="#0d0d0d" stroke="#0d0d0d" stroke-width="1.6" stroke-linejoin="round">3</text>
</svg>
</body></html>
